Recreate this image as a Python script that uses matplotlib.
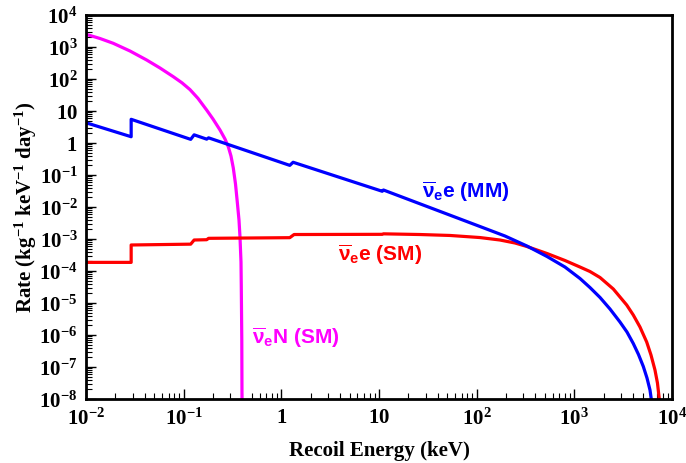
import matplotlib
matplotlib.use("Agg")
import matplotlib.pyplot as plt
from matplotlib.ticker import LogLocator, FixedLocator, FixedFormatter, NullFormatter

plt.rcParams['mathtext.fontset'] = 'custom'
plt.rcParams['mathtext.rm'] = 'Liberation Serif:bold'
plt.rcParams['mathtext.bf'] = 'Liberation Serif:bold'
plt.rcParams['mathtext.it'] = 'Liberation Serif:bold'
plt.rcParams['mathtext.sf'] = 'Liberation Sans:bold'

# ---- data ----
mm_E = [0.01, 0.029, 0.029, 0.118, 0.128, 0.172, 0.18, 1.22, 1.32, 10.8, 11.1,
        108, 195, 327, 525, 802, 1143, 1445, 1832, 2317, 2932, 3459, 4013, 4538,
        5083, 5546, 5951, 6135]
mm_R = [4.3, 1.57, 5.5, 1.3, 1.8, 1.32, 1.45, 0.2, 0.25, 0.031, 0.034,
        2.46e-3, 1.24e-3, 6.04e-4, 2.84e-4, 1.33e-4, 5.83e-5, 3.05e-5, 1.49e-5, 6.5e-6,
        2.55e-6, 1.24e-6, 5.43e-7, 2.46e-7, 1.04e-7, 4.53e-8, 1.91e-8, 1.0e-8]

sm_E = [0.01, 0.029, 0.029, 0.118, 0.128, 0.172, 0.18, 1.22, 1.35, 10.8, 11.1,
        26.3, 53.3, 108, 173, 247, 327, 525, 802, 1143, 1445, 1832, 2506, 3436,
        4013, 4699, 5506, 6094, 6693, 7097, 7410]
sm_R = [1.86e-4, 1.86e-4, 6.5e-4, 6.9e-4, 9.3e-4, 9.5e-4, 1.05e-3, 1.1e-3, 1.38e-3, 1.4e-3, 1.45e-3,
        1.38e-3, 1.29e-3, 1.11e-3, 9.3e-4, 7.5e-4, 5.83e-4, 3.52e-4, 2.13e-4, 1.33e-4, 9.65e-5,
        6.26e-5, 2.74e-5, 8.66e-6, 4.22e-6, 1.78e-6, 6.04e-7, 2.37e-7, 8.06e-8, 3.16e-8, 1.0e-8]

nuN_E = [0.01, 0.0139, 0.019, 0.0282, 0.0418, 0.0572, 0.0783, 0.0961, 0.116, 0.140,
         0.172, 0.1996, 0.2355, 0.265, 0.2863, 0.3051, 0.3222, 0.3394, 0.354, 0.3685,
         0.3772, 0.3864, 0.389, 0.3937, 0.3956]
nuN_R = [2495, 1845, 1306, 750, 392, 221, 118, 76.0, 46.7, 24.9,
         10.7, 5.62, 2.55, 1.33, 0.766, 0.392, 0.1655, 0.0523, 0.0143, 3.93e-3,
         1.18e-3, 1.91e-4, 3.24e-5, 6.98e-7, 1.0e-8]

xticks = [1e-2, 1e-1, 1, 10, 1e2, 1e3, 1e4]
xticklabels = [r'$10^{-2}$', r'$10^{-1}$', r'$1$', r'$10$', r'$10^{2}$', r'$10^{3}$', r'$10^{4}$']
yticks = [1e-8, 1e-7, 1e-6, 1e-5, 1e-4, 1e-3, 1e-2, 1e-1, 1, 10, 1e2, 1e3, 1e4]
yticklabels = [r'$10^{-8}$', r'$10^{-7}$', r'$10^{-6}$', r'$10^{-5}$', r'$10^{-4}$', r'$10^{-3}$',
               r'$10^{-2}$', r'$10^{-1}$', r'$1$', r'$10$', r'$10^{2}$', r'$10^{3}$', r'$10^{4}$']

fig = plt.figure(figsize=(6.86, 4.63), dpi=100)
ax = fig.add_axes([86/686, 1-399/463, (672-86)/686, (399-15)/463])

lw = 2.3
ax.plot(nuN_E, nuN_R, color='#ff00ff', lw=lw)
ax.plot(sm_E, sm_R, color='#ff0000', lw=lw)
ax.plot(mm_E, mm_R, color='#0000ff', lw=lw)

ax.set_xscale('log')
ax.set_yscale('log')
ax.set_xlim(1e-2, 1e4)
ax.set_ylim(1e-8, 1e4)

ax.xaxis.set_major_locator(FixedLocator(xticks))
ax.xaxis.set_major_formatter(FixedFormatter(xticklabels))
ax.yaxis.set_major_locator(FixedLocator(yticks))
ax.yaxis.set_major_formatter(FixedFormatter(yticklabels))
ax.xaxis.set_minor_locator(LogLocator(base=10, subs=range(2, 10), numticks=50))
ax.yaxis.set_minor_locator(LogLocator(base=10, subs=range(2, 10), numticks=50))
ax.xaxis.set_minor_formatter(NullFormatter())
ax.yaxis.set_minor_formatter(NullFormatter())

ax.tick_params(which='major', direction='in', length=7.5, width=1.0, labelsize=15, pad=6)
ax.tick_params(which='minor', direction='in', length=4, width=0.8)
ax.tick_params(top=False, right=False, which='both')
for s in ax.spines.values():
    s.set_linewidth(2)

ax.set_xlabel('Recoil Energy (keV)', fontsize=15, fontfamily='Liberation Serif', fontweight='bold', labelpad=9)
ax.set_ylabel(r'Rate (kg$^{-1}$ keV$^{-1}$ day$^{-1}$)', fontsize=15, fontfamily='Liberation Serif',
              fontweight='bold', labelpad=0)

ax.text(27.5, 0.03, r'$\mathsf{\overline{\nu}_e e\ (MM)}$', color='#0000ff', fontsize=15,
        va='center', ha='left')
ax.text(3.8, 3.2e-4, r'$\mathsf{\overline{\nu}_e e\ (SM)}$', color='#ff0000', fontsize=15,
        va='center', ha='left')
ax.text(0.5, 8.1e-7, r'$\mathsf{\overline{\nu}_e N\ (SM)}$', color='#ff00ff', fontsize=15,
        va='center', ha='left')

fig.savefig('out.png', dpi=100)
